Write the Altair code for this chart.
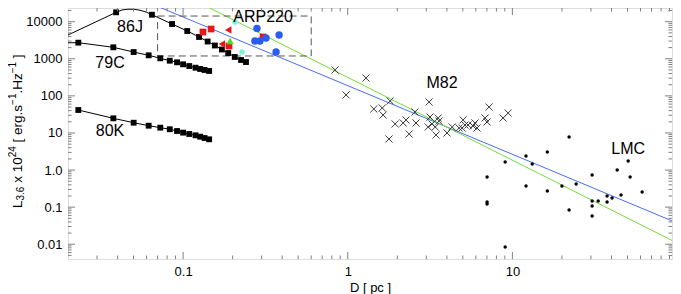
import altair as alt
import pandas as pd

# ---------------- data ----------------
# cluster series sampled at the same radii
D_SERIES = [0.0231, 0.0377, 0.0501, 0.0618, 0.0727, 0.0830, 0.0919, 0.100, 0.109, 0.119, 0.127, 0.135, 0.144]
L_79C = [2720, 2040, 1520, 1240, 1030, 887, 804, 710, 638, 575, 531, 499, 469]
L_80K = [41.6, 24.8, 18.9, 15.7, 13.9, 12.6, 11.3, 10.2, 9.38, 8.65, 7.93, 7.31, 6.75]
D_86J = [0.0392, 0.0647, 0.0857, 0.106, 0.125, 0.141, 0.156, 0.172, 0.188, 0.206, 0.225, 0.241]
L_86J = [17900, 15400, 8660, 5610, 3870, 2920, 2280, 1780, 1430, 1120, 927, 818]
# extra points of the model curves
CURVE_86J_D = [0.02, 0.0426, 0.0463, 0.0504, 0.0547, 0.0596]
CURVE_86J_L = [4380, 20700, 21700, 21600, 20400, 18200]
CURVE_79C_D = [0.02]
CURVE_79C_L = [2700]

# ARP220
ARP_BOX_D = [0.07, 0.6]
ARP_BOX_L = [1190, 14200]
ARP_RED_SQ_D = [0.132, 0.148, 0.190, 0.306]
ARP_RED_SQ_L = [5270, 6350, 2210, 3870]
ARP_RED_TRI_D = [0.188, 0.172]
ARP_RED_TRI_L = [5970, 2500]
ARP_GREEN_D = [0.193]
ARP_GREEN_L = [3010]
ARP_CYAN_D = [0.207, 0.228]
ARP_CYAN_L = [9810, 1520]
ARP_BLUE_D = [0.281, 0.383, 0.273, 0.293, 0.319, 0.367]
ARP_BLUE_L = [6550, 4380, 3010, 3010, 3630, 1520]

# M82
M82_D = [0.838, 1.29, 0.977, 1.81, 1.44, 1.62, 1.64, 1.94, 2.17, 2.26,
         2.60, 2.36, 1.78, 2.56, 3.12, 3.16, 3.54, 3.59, 3.08, 3.40,
         3.25, 3.44, 4.31, 4.01, 5.02, 5.16, 4.95, 4.75, 5.38, 5.77,
         6.10, 5.93, 6.83, 7.02, 7.22, 8.78, 9.42]
M82_L = [499, 303, 106, 72.8, 44.3, 47.1, 30.5, 17.5, 18.6, 22.4,
         18.6, 9.38, 6.87, 36.7, 68.4, 26.9, 25.3, 21.0, 14.5, 14.5,
         17.5, 8.81, 14.5, 10.0, 22.4, 16.4, 13.6, 13.6, 16.4, 15.4,
         13.6, 18.6, 25.3, 19.8, 50.1, 25.3, 34.5]

# LMC
LMC_D = [7.02, 7.02, 7.02, 9.04, 9.04, 12.1, 12.1, 13.2, 16.3, 16.3,
         20.0, 24.4, 22.1, 22.1, 30.5, 30.5, 30.5, 30.5, 33.2, 37.6,
         37.6, 40.3, 45.7, 43.3, 50.5, 51.9, 61.4]
LMC_L = [0.650, 0.138, 0.122, 1.65, 0.00843, 2.39, 0.372, 1.46, 3.07, 0.272,
         0.372, 0.421, 0.0838, 7.78, 0.736, 0.147, 0.107, 0.0577, 0.147, 0.200,
         0.138, 0.177, 0.213, 1.0, 1.75, 0.650, 0.257]

# power-law fits (end points)
FIT_BLUE_D = [0.0647, 100]
FIT_BLUE_L = [30000, 0.0374]
FIT_GREEN_D = [0.130, 100]
FIT_GREEN_L = [30000, 0.0108]

# annotations
LABELS = ["86J", "79C", "80K", "ARP220", "M82", "LMC"]
LABEL_D = [0.0476, 0.036, 0.036, 0.306, 3.74, 50.5]
LABEL_L = [7200, 769, 11.3, 13600, 222, 3.70]

# axes
X_TICKS = [0.1, 1, 10]
X_TICK_LABELS = ["0.1", "1", "10"]
Y_TICKS = [0.01, 0.1, 1, 10, 100, 1000, 10000]
Y_TICK_LABELS = ["0.01", "0.1", "1.0", "10", "100", "1000", "10000"]
X_DOMAIN = [0.02, 93.2]
Y_DOMAIN = [0.004, 23400]
X_TITLE = "D [ pc ]"
# y title pieces: normal / subscript / superscript
Y_TITLE_PIECES = ["L", "3.6", " x 10", "24", " [ erg.s", "−1", ".Hz", "−1", " ]"]
Y_TITLE_ROLES = ["n", "sub", "n", "sup", "n", "sup", "n", "sup", "n"]

# ---------------- chart ----------------
W, H = 604, 251
GRAY = "#808080"
FONT = "Liberation Sans"

XS = alt.Scale(type="log", domain=X_DOMAIN, nice=False)
YS = alt.Scale(type="log", domain=Y_DOMAIN, nice=False)


def label_expr(vals, labels):
    expr = "''"
    for v, s in reversed(list(zip(vals, labels))):
        expr = f"abs(datum.value - {v}) < {v * 1e-6} ? '{s}' : ({expr})"
    return expr


X_AXIS = alt.Axis(values=X_TICKS, labelExpr=label_expr(X_TICKS, X_TICK_LABELS),
                  title=X_TITLE, ticks=False, domain=False, grid=False,
                  labelFontSize=13, titleFontSize=13, titleFontWeight="normal",
                  labelPadding=6, titlePadding=3, labelColor="black", titleColor="black",
                  labelFont=FONT, titleFont=FONT)
Y_AXIS = alt.Axis(values=Y_TICKS, labelExpr=label_expr(Y_TICKS, Y_TICK_LABELS),
                  title="", ticks=False, domain=False, grid=False,
                  labelFontSize=13, labelPadding=6, labelColor="black", labelFont=FONT)


def xe():
    return alt.X("D:Q", scale=XS, axis=X_AXIS, title=X_TITLE)


def ye():
    return alt.Y("L:Q", scale=YS, axis=Y_AXIS, title="")


def df(d, l):
    return pd.DataFrame({"D": d, "L": l})


# model curves
curve_rows = []
for d, l in zip(CURVE_86J_D + D_86J, CURVE_86J_L + L_86J):
    curve_rows.append({"D": d, "L": l, "s": "86J"})
for d, l in zip(CURVE_79C_D + D_SERIES, CURVE_79C_L + L_79C):
    curve_rows.append({"D": d, "L": l, "s": "79C"})
for d, l in zip(D_SERIES, L_80K):
    curve_rows.append({"D": d, "L": l, "s": "80K"})
curves = alt.Chart(pd.DataFrame(curve_rows)).mark_line(color="black", strokeWidth=1, clip=True).encode(
    x=xe(), y=ye(), detail="s:N", order="D:Q")

sq_rows = []
for d, l in zip(D_86J, L_86J):
    sq_rows.append({"D": d, "L": l})
for d, l in zip(D_SERIES, L_79C):
    sq_rows.append({"D": d, "L": l})
for d, l in zip(D_SERIES, L_80K):
    sq_rows.append({"D": d, "L": l})
squares = alt.Chart(pd.DataFrame(sq_rows)).mark_point(
    shape="square", filled=True, color="black", size=34, opacity=1).encode(x=xe(), y=ye())

fit_blue = alt.Chart(df(FIT_BLUE_D, FIT_BLUE_L)).mark_line(color="#4a6cf7", strokeWidth=1, clip=True).encode(x=xe(), y=ye())
fit_green = alt.Chart(df(FIT_GREEN_D, FIT_GREEN_L)).mark_line(color="#74dd3a", strokeWidth=1, clip=True).encode(x=xe(), y=ye())

box = alt.Chart(pd.DataFrame({"D": [ARP_BOX_D[0]], "D2": [ARP_BOX_D[1]],
                              "L": [ARP_BOX_L[0]], "L2": [ARP_BOX_L[1]]})).mark_rect(
    filled=False, stroke="#555555", strokeWidth=1, strokeDash=[7, 4]).encode(
    x=xe(), x2="D2:Q", y=ye(), y2="L2:Q")

red_sq = alt.Chart(df(ARP_RED_SQ_D, ARP_RED_SQ_L)).mark_point(
    shape="square", filled=True, color="#e8161b", size=45, opacity=1).encode(x=xe(), y=ye())
red_tri = alt.Chart(df(ARP_RED_TRI_D, ARP_RED_TRI_L)).mark_point(
    shape="triangle-left", filled=True, color="#e8161b", size=55, opacity=1).encode(x=xe(), y=ye())
green_tri = alt.Chart(df(ARP_GREEN_D, ARP_GREEN_L)).mark_point(
    shape="triangle-up", filled=True, color="#55d622", size=55, opacity=1).encode(x=xe(), y=ye())
cyan_ast = alt.Chart(df(ARP_CYAN_D, ARP_CYAN_L)).mark_point(
    shape="M-1,0L1,0M0,-1L0,1M-0.7,-0.7L0.7,0.7M-0.7,0.7L0.7,-0.7",
    filled=False, stroke="#7ff0e0", strokeWidth=1.5, size=36, opacity=1).encode(x=xe(), y=ye())
blue_c = alt.Chart(df(ARP_BLUE_D, ARP_BLUE_L)).mark_point(
    shape="circle", filled=True, color="#2a5cf0", size=55, opacity=1).encode(x=xe(), y=ye())

m82 = alt.Chart(df(M82_D, M82_L)).mark_point(
    shape="M-1,-1L1,1M-1,1L1,-1", filled=False, stroke="#3a3a3a", strokeWidth=1,
    size=50, opacity=1).encode(x=xe(), y=ye())
lmc = alt.Chart(df(LMC_D, LMC_L)).mark_point(
    shape="circle", filled=True, color="black", size=12, opacity=1).encode(x=xe(), y=ye())

labels = alt.Chart(pd.DataFrame({"D": LABEL_D, "L": LABEL_L, "t": LABELS})).mark_text(
    fontSize=16, font=FONT, color="black", align="center", baseline="middle").encode(
    x=xe(), y=ye(), text="t:N")

# inward ticks (IDL style)
X_MINOR = [k * 10 ** e for e in range(-2, 2) for k in range(2, 10) if X_DOMAIN[0] < k * 10 ** e < X_DOMAIN[1]]
Y_MINOR = [k * 10 ** e for e in range(-3, 5) for k in range(2, 10) if Y_DOMAIN[0] < k * 10 ** e < Y_DOMAIN[1]]


def xticks(vals, length, top):
    y0, y1 = (0, length) if top else (H, H - length)
    return alt.Chart(pd.DataFrame({"D": vals})).mark_rule(color=GRAY, strokeWidth=1).encode(
        x=xe(), y=alt.value(y0), y2=alt.value(y1))


def yticks(vals, length, right):
    x0, x1 = (W, W - length) if right else (0, length)
    return alt.Chart(pd.DataFrame({"L": vals})).mark_rule(color=GRAY, strokeWidth=1).encode(
        y=ye(), x=alt.value(x0), x2=alt.value(x1))


ticks = [xticks(X_TICKS, 7, False), xticks(X_MINOR, 3.5, False),
         xticks(X_TICKS, 7, True), xticks(X_MINOR, 3.5, True),
         yticks(Y_TICKS, 7, False), yticks(Y_MINOR, 3.5, False),
         yticks(Y_TICKS, 7, True), yticks(Y_MINOR, 3.5, True)]

# rotated y-axis title with sub/superscripts, assembled from pieces
ARIAL_W = {'L': .556, '0': .556, '1': .556, '2': .556, '3': .556, '4': .556, '6': .556,
           '.': .278, ' ': .278, 'x': .5, '[': .278, ']': .278, 'e': .556, 'r': .333,
           'g': .556, 's': .5, '−': .584, 'H': .722, 'z': .5}
FS = {"n": 13.5, "sub": 10, "sup": 10}
XB = {"n": -46, "sub": -44, "sup": -52}
title_layers = []
pos = 0.0
Y_START = 200
for piece, role in zip(Y_TITLE_PIECES, Y_TITLE_ROLES):
    fs = FS[role]
    lead = len(piece) - len(piece.lstrip())
    pos += lead * ARIAL_W[' '] * fs
    txt = piece.strip()
    title_layers.append(
        alt.Chart(pd.DataFrame({"t": [txt]})).mark_text(
            angle=270, align="left", baseline="alphabetic", fontSize=fs, font=FONT, color="black"
        ).encode(x=alt.value(XB[role]), y=alt.value(Y_START - pos), text="t:N"))
    pos += sum(ARIAL_W.get(c, .556) for c in txt) * fs
    pos += (len(piece) - len(piece.rstrip())) * ARIAL_W[' '] * fs

chart = alt.layer(
    curves, fit_blue, fit_green, box, squares, m82, lmc,
    red_sq, red_tri, green_tri, cyan_ast, blue_c, labels, *ticks, *title_layers
).properties(
    width=W, height=H,
    autosize=alt.AutoSizeParams(type="none"),
    padding={"left": 60, "top": 0, "right": 1, "bottom": 35},
).configure_view(stroke=GRAY, strokeWidth=2).configure(font=FONT)

chart.save("out.html", embed_options={"renderer": "svg", "actions": False})
